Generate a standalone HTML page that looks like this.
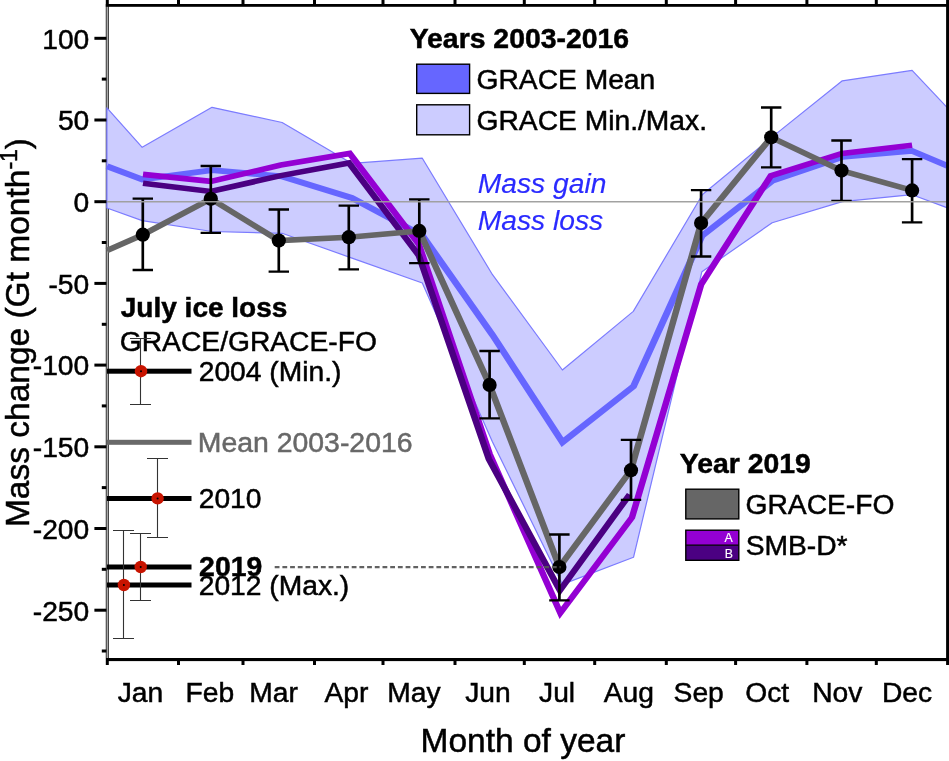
<!DOCTYPE html>
<html lang="en"><head><meta charset="utf-8"><title>Mass change by month of year</title>
<style>html,body{margin:0;padding:0;background:#fff}svg{display:block}</style></head>
<body>
<svg width="949" height="761" viewBox="0 0 949 761" font-family="'Liberation Sans', Arial, Helvetica, sans-serif">
<rect width="949" height="761" fill="#fff"/>
<rect x="105.8" y="5" width="3.1" height="655" fill="#a8a8a8"/>
<rect x="105.8" y="5" width="0.9" height="655" fill="#3a3a3a"/><rect x="108" y="5" width="0.9" height="655" fill="#3a3a3a"/>
<polygon points="106.9,107.8 142.2,147.3 212.0,107.3 282.1,122.5 352.0,163.4 422.3,158.2 492.5,274.7 562.4,370.0 633.3,311.4 702.5,194.5 772.0,137.1 842.3,80.8 912.1,70.4 947.5,107.9 947.5,207.9 912.1,194.7 842.3,201.6 772.2,222.7 701.9,271.7 633.5,557.3 562.4,584.4 492.5,442.0 422.3,283.0 352.0,258.1 282.1,233.3 212.0,231.5 142.2,220.6 106.9,208.0" fill="#ccccff" stroke="#7b7bff" stroke-width="1.2" stroke-linejoin="round"/>
<g transform="scale(1.16,1)" fill="none" stroke-width="5.6" stroke-linejoin="miter" stroke-miterlimit="10">
<polyline points="92.24,166.3 122.59,179.4 182.76,170.1 243.19,176.4 303.45,197.9 364.05,235.4 424.57,334.9 484.91,442.2 546.12,386.4 605.17,235.9 666.38,180.4 726.12,156.9 786.29,150.9 816.81,165.9" stroke="#6666ff" stroke-width="5.9"/>
<polyline points="123.28,174.4 181.72,181.4 242.07,165.0 301.47,153.4 361.03,244.2 422.07,453.9 483.02,612.9 544.83,517.4 604.48,284.3 664.48,175.8 725.86,153.4 786.29,145.2" stroke="#9400d3"/>
<polyline points="123.28,183.3 181.72,191.5 242.07,175.6 300.86,163.0 361.03,255.4 421.38,458.9 482.67,590.4 542.84,494.4" stroke="#4b0082"/>
<polyline points="92.24,250.4 123.10,234.7 181.72,198.8 240.34,240.6 300.69,237.2 361.47,230.9 422.07,384.9 482.24,567.1 543.97,470.2 604.40,223.1 664.83,137.3 725.43,170.6 786.29,190.4" stroke="#666666"/>
</g>
<path transform="scale(1.16,1)" d="M123.10 198.7V270.0M114.31 198.7H131.90M114.31 270.0H131.90" stroke="#000" stroke-width="2.3" fill="none"/>
<path transform="scale(1.16,1)" d="M181.72 166.0V232.8M172.93 166.0H190.52M172.93 232.8H190.52" stroke="#000" stroke-width="2.3" fill="none"/>
<path transform="scale(1.16,1)" d="M240.34 209.5V271.7M231.55 209.5H249.14M231.55 271.7H249.14" stroke="#000" stroke-width="2.3" fill="none"/>
<path transform="scale(1.16,1)" d="M300.69 205.6V269.3M291.90 205.6H309.48M291.90 269.3H309.48" stroke="#000" stroke-width="2.3" fill="none"/>
<path transform="scale(1.16,1)" d="M361.47 199.3V263.2M352.67 199.3H370.26M352.67 263.2H370.26" stroke="#000" stroke-width="2.3" fill="none"/>
<path transform="scale(1.16,1)" d="M422.07 351.0V418.3M413.28 351.0H430.86M413.28 418.3H430.86" stroke="#000" stroke-width="2.3" fill="none"/>
<path transform="scale(1.16,1)" d="M482.24 534.5V600.3M473.45 534.5H491.03M473.45 600.3H491.03" stroke="#000" stroke-width="2.3" fill="none"/>
<path transform="scale(1.16,1)" d="M543.97 439.8V499.9M535.17 439.8H552.76M535.17 499.9H552.76" stroke="#000" stroke-width="2.3" fill="none"/>
<path transform="scale(1.16,1)" d="M604.40 190.2V256.5M595.60 190.2H613.19M595.60 256.5H613.19" stroke="#000" stroke-width="2.3" fill="none"/>
<path transform="scale(1.16,1)" d="M664.83 107.5V167.4M656.03 107.5H673.62M656.03 167.4H673.62" stroke="#000" stroke-width="2.3" fill="none"/>
<path transform="scale(1.16,1)" d="M725.43 140.5V200.8M716.64 140.5H734.22M716.64 200.8H734.22" stroke="#000" stroke-width="2.3" fill="none"/>
<path transform="scale(1.16,1)" d="M786.29 159.1V222.3M777.50 159.1H795.09M777.50 222.3H795.09" stroke="#000" stroke-width="2.3" fill="none"/>
<circle cx="142.8" cy="234.7" r="7.1" fill="#000"/>
<circle cx="210.8" cy="198.8" r="7.1" fill="#000"/>
<circle cx="278.8" cy="240.6" r="7.1" fill="#000"/>
<circle cx="348.8" cy="237.2" r="7.1" fill="#000"/>
<circle cx="419.3" cy="230.9" r="7.1" fill="#000"/>
<circle cx="489.6" cy="384.9" r="7.1" fill="#000"/>
<circle cx="559.4" cy="567.1" r="7.1" fill="#000"/>
<circle cx="631.0" cy="470.2" r="7.1" fill="#000"/>
<circle cx="701.1" cy="223.1" r="7.1" fill="#000"/>
<circle cx="771.2" cy="137.3" r="7.1" fill="#000"/>
<circle cx="841.5" cy="170.6" r="7.1" fill="#000"/>
<circle cx="912.1" cy="190.4" r="7.1" fill="#000"/>
<line x1="274.7" y1="567.1" x2="560.6" y2="567.1" stroke="#555" stroke-width="2.2" stroke-dasharray="4.8 2.9" opacity="0.92"/>
<line x1="107" y1="201.7" x2="947" y2="201.7" stroke="#9e9e9c" stroke-width="1.5" opacity="0.95"/>
<rect x="105.8" y="4" width="843.2" height="2.8" fill="#000"/>
<rect x="106" y="658" width="843" height="3.1" fill="#000"/>
<rect x="946.1" y="4" width="3" height="661" fill="#000"/>
<rect x="105.8" y="0" width="3" height="5" fill="#000"/>
<rect x="105.8" y="660" width="3" height="5" fill="#000"/>
<rect x="177.0" y="0" width="3" height="5" fill="#000"/>
<rect x="177.0" y="660" width="3" height="5" fill="#000"/>
<rect x="241.5" y="0" width="3" height="5" fill="#000"/>
<rect x="241.5" y="660" width="3" height="5" fill="#000"/>
<rect x="313.0" y="0" width="3" height="5" fill="#000"/>
<rect x="313.0" y="660" width="3" height="5" fill="#000"/>
<rect x="381.5" y="0" width="3" height="5" fill="#000"/>
<rect x="381.5" y="660" width="3" height="5" fill="#000"/>
<rect x="453.5" y="0" width="3" height="5" fill="#000"/>
<rect x="453.5" y="660" width="3" height="5" fill="#000"/>
<rect x="522.8" y="0" width="3" height="5" fill="#000"/>
<rect x="522.8" y="660" width="3" height="5" fill="#000"/>
<rect x="593.2" y="0" width="3" height="5" fill="#000"/>
<rect x="593.2" y="660" width="3" height="5" fill="#000"/>
<rect x="664.8" y="0" width="3" height="5" fill="#000"/>
<rect x="664.8" y="660" width="3" height="5" fill="#000"/>
<rect x="734.1" y="0" width="3" height="5" fill="#000"/>
<rect x="734.1" y="660" width="3" height="5" fill="#000"/>
<rect x="805.4" y="0" width="3" height="5" fill="#000"/>
<rect x="805.4" y="660" width="3" height="5" fill="#000"/>
<rect x="874.8" y="0" width="3" height="5" fill="#000"/>
<rect x="874.8" y="660" width="3" height="5" fill="#000"/>
<rect x="946.1" y="0" width="3" height="5" fill="#000"/>
<rect x="94.4" y="36.8" width="12" height="3" fill="#000"/>
<rect x="94.4" y="118.5" width="12" height="3" fill="#000"/>
<rect x="94.4" y="200.2" width="12" height="3" fill="#000"/>
<rect x="94.4" y="281.9" width="12" height="3" fill="#000"/>
<rect x="94.4" y="363.6" width="12" height="3" fill="#000"/>
<rect x="94.4" y="445.3" width="12" height="3" fill="#000"/>
<rect x="94.4" y="527.0" width="12" height="3" fill="#000"/>
<rect x="94.4" y="608.7" width="12" height="3" fill="#000"/>
<rect x="101.8" y="77.6" width="4.6" height="3" fill="#000"/>
<rect x="101.8" y="159.3" width="4.6" height="3" fill="#000"/>
<rect x="101.8" y="241.0" width="4.6" height="3" fill="#000"/>
<rect x="101.8" y="322.8" width="4.6" height="3" fill="#000"/>
<rect x="101.8" y="404.4" width="4.6" height="3" fill="#000"/>
<rect x="101.8" y="486.1" width="4.6" height="3" fill="#000"/>
<rect x="101.8" y="567.8" width="4.6" height="3" fill="#000"/>
<rect x="101.8" y="649.5" width="4.6" height="3" fill="#000"/>
<text x="42.24" y="48.6" font-size="28.22" fill="#000" stroke="#000" stroke-width="0.5">100</text>
<text x="57.90" y="130.3" font-size="28.22" fill="#000" stroke="#000" stroke-width="0.5">50</text>
<text x="73.57" y="212.0" font-size="28.22" fill="#000" stroke="#000" stroke-width="0.5">0</text>
<text x="48.45" y="293.7" font-size="28.22" fill="#000" stroke="#000" stroke-width="0.5">-50</text>
<text x="32.79" y="375.4" font-size="28.22" fill="#000" stroke="#000" stroke-width="0.5">-100</text>
<text x="32.79" y="457.1" font-size="28.22" fill="#000" stroke="#000" stroke-width="0.5">-150</text>
<text x="32.79" y="538.8" font-size="28.22" fill="#000" stroke="#000" stroke-width="0.5">-200</text>
<text x="32.79" y="620.5" font-size="28.22" fill="#000" stroke="#000" stroke-width="0.5">-250</text>
<text x="117.69" y="702.4" font-size="28.22" fill="#000" stroke="#000" stroke-width="0.5">Jan</text>
<text x="185.62" y="702.4" font-size="28.22" fill="#000" stroke="#000" stroke-width="0.5">Feb</text>
<text x="249.36" y="702.4" font-size="28.22" fill="#000" stroke="#000" stroke-width="0.5">Mar</text>
<text x="324.55" y="702.4" font-size="28.22" fill="#000" stroke="#000" stroke-width="0.5">Apr</text>
<text x="387.37" y="702.4" font-size="28.22" fill="#000" stroke="#000" stroke-width="0.5">May</text>
<text x="465.24" y="702.4" font-size="28.22" fill="#000" stroke="#000" stroke-width="0.5">Jun</text>
<text x="539.02" y="702.4" font-size="28.22" fill="#000" stroke="#000" stroke-width="0.5">Jul</text>
<text x="603.78" y="702.4" font-size="28.22" fill="#000" stroke="#000" stroke-width="0.5">Aug</text>
<text x="673.61" y="702.4" font-size="28.22" fill="#000" stroke="#000" stroke-width="0.5">Sep</text>
<text x="745.29" y="702.4" font-size="28.22" fill="#000" stroke="#000" stroke-width="0.5">Oct</text>
<text x="812.18" y="702.4" font-size="28.22" fill="#000" stroke="#000" stroke-width="0.5">Nov</text>
<text x="881.91" y="702.4" font-size="28.22" fill="#000" stroke="#000" stroke-width="0.5">Dec</text>
<text x="420.57" y="752.0" font-size="33.5" fill="#000" stroke="#000" stroke-width="0.5">Month of year</text>
<text transform="translate(28.7,527.1) rotate(-90)" font-size="33.5" fill="#000" stroke="#000" stroke-width="0.5">Mass change (Gt month<tspan font-size="23" dy="-12">-1</tspan><tspan dy="12">)</tspan></text>
<text x="409.73" y="48.0" font-size="28.39" font-weight="bold" fill="#000" stroke="#000" stroke-width="0.5">Years 2003-2016</text>
<rect x="416.7" y="64.2" width="52.9" height="29.2" fill="#6666ff" stroke="#000" stroke-width="1.4"/>
<rect x="416.7" y="104.8" width="52.9" height="30" fill="#ccccff" stroke="#000" stroke-width="1.4"/>
<text x="476.49" y="89.0" font-size="28.22" fill="#000" stroke="#000" stroke-width="0.5">GRACE Mean</text>
<text x="476.49" y="129.7" font-size="28.22" fill="#000" stroke="#000" stroke-width="0.5">GRACE Min./Max.</text>
<text x="477.75" y="192.5" font-size="28.22" font-style="italic" fill="#2a2aff" stroke="#2a2aff" stroke-width="0.15">Mass gain</text>
<text x="477.75" y="229.9" font-size="28.22" font-style="italic" fill="#2a2aff" stroke="#2a2aff" stroke-width="0.15">Mass loss</text>
<text x="679.83" y="472.5" font-size="28.39" font-weight="bold" fill="#000" stroke="#000" stroke-width="0.5">Year 2019</text>
<rect x="685.8" y="489.2" width="53" height="29.7" fill="#666666" stroke="#000" stroke-width="1.4"/>
<rect x="685.8" y="530.2" width="53" height="15" fill="#9400d3"/>
<rect x="685.8" y="545.1" width="53" height="15.2" fill="#4b0082"/>
<rect x="685.8" y="530.2" width="53" height="30.1" fill="none" stroke="#000" stroke-width="1.4"/>
<line x1="685.8" y1="545.1" x2="738.8" y2="545.1" stroke="#000" stroke-width="1.2"/>
<text x="724.42" y="541.5" font-size="12.3" fill="#fff" stroke="#fff" stroke-width="0.15">A</text>
<text x="724.84" y="557.9" font-size="12.3" fill="#fff" stroke="#fff" stroke-width="0.15">B</text>
<text x="745.49" y="513.9" font-size="28.22" fill="#000" stroke="#000" stroke-width="0.5">GRACE-FO</text>
<text x="745.63" y="554.8" font-size="28.22" fill="#000" stroke="#000" stroke-width="0.5">SMB-D*</text>
<text x="120.78" y="317.1" font-size="28.02" font-weight="bold" fill="#000" stroke="#000" stroke-width="0.5">July ice loss</text>
<text x="119.79" y="350.8" font-size="28.22" fill="#000" stroke="#000" stroke-width="0.5">GRACE/GRACE-FO</text>
<rect x="107" y="368.7" width="84.5" height="5" fill="#000"/>
<rect x="107" y="439.8" width="84.5" height="5" fill="#696969"/>
<rect x="107" y="496.0" width="84.5" height="5" fill="#000"/>
<rect x="107" y="564.5" width="84.5" height="5" fill="#000"/>
<rect x="107" y="582.5" width="84.5" height="5" fill="#000"/>
<text x="198.69" y="381.1" font-size="28.22" fill="#000" stroke="#000" stroke-width="0.5">2004 (Min.)</text>
<text x="197.83" y="452.0" font-size="28.4" fill="#686868" stroke="#686868" stroke-width="0.5">Mean 2003-2016</text>
<text x="198.69" y="507.8" font-size="28.22" fill="#000" stroke="#000" stroke-width="0.5">2010</text>
<text x="199.11" y="576.2" font-size="28.39" font-weight="bold" fill="#000" stroke="#000" stroke-width="0.5">2019</text>
<text x="198.69" y="595.4" font-size="28.22" fill="#000" stroke="#000" stroke-width="0.5">2012 (Max.)</text>
<path d="M140.5 338.5V404.5M130.0 338.5H151.0M130.0 404.5H151.0" stroke="#333" stroke-width="1.1" fill="none"/>
<path d="M157.5 458.5V537.5M147.0 458.5H168.0M147.0 537.5H168.0" stroke="#333" stroke-width="1.1" fill="none"/>
<path d="M140.5 533.5V600.5M130.0 533.5H151.0M130.0 600.5H151.0" stroke="#333" stroke-width="1.1" fill="none"/>
<path d="M123.5 530.5V638.5M113.0 530.5H134.0M113.0 638.5H134.0" stroke="#333" stroke-width="1.1" fill="none"/>
<circle cx="141.0" cy="371.2" r="6.2" fill="#c81400"/><circle cx="141.0" cy="371.2" r="1" fill="#000"/>
<circle cx="157.6" cy="498.4" r="6.2" fill="#c81400"/><circle cx="157.6" cy="498.4" r="1" fill="#000"/>
<circle cx="140.7" cy="567.0" r="6.2" fill="#c81400"/><circle cx="140.7" cy="567.0" r="1" fill="#000"/>
<circle cx="123.9" cy="585.0" r="6.2" fill="#c81400"/><circle cx="123.9" cy="585.0" r="1" fill="#000"/>
</svg>
</body></html>
